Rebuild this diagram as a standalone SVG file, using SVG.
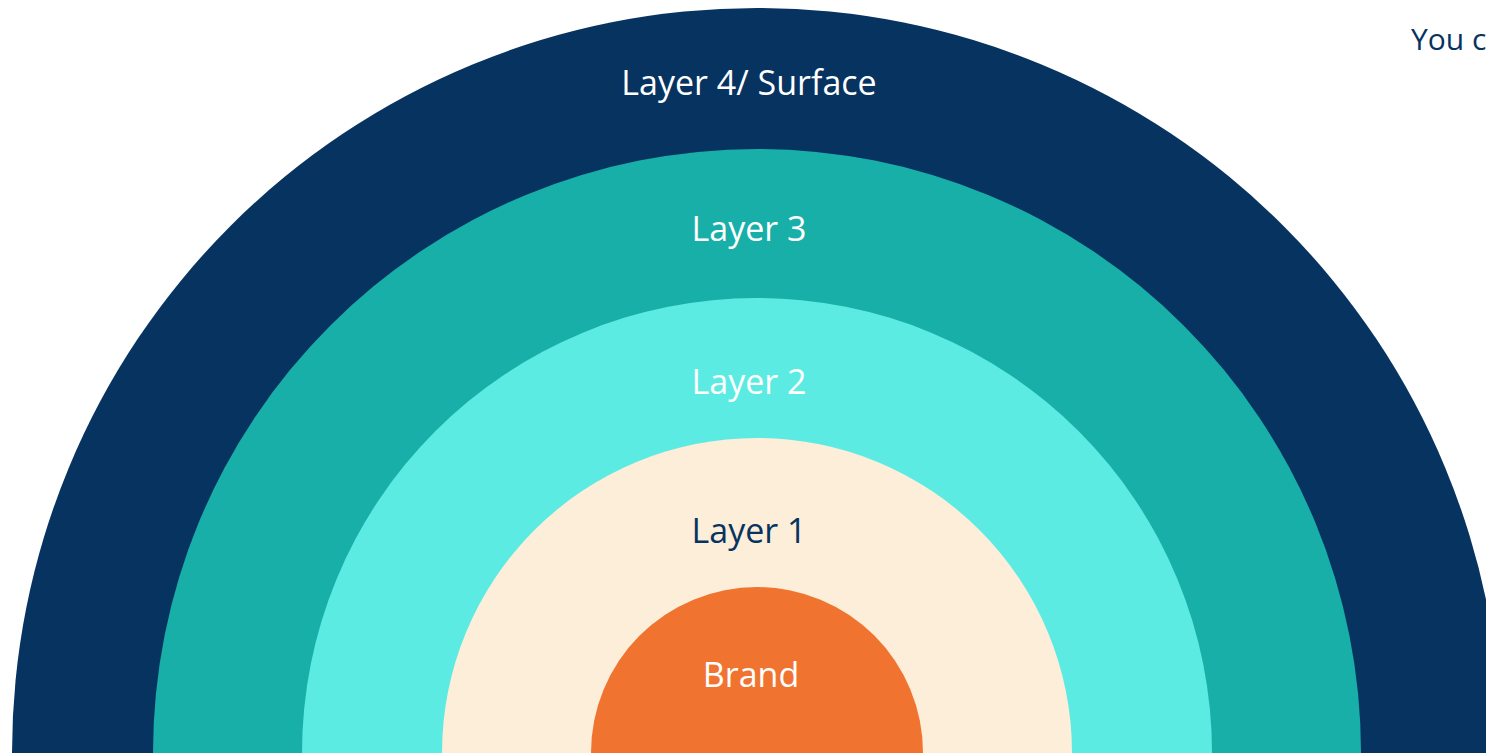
<svg xmlns="http://www.w3.org/2000/svg" width="1486" height="753" viewBox="0 0 1486 753">
<style>
.lbl{font-family:"Open Sans","Liberation Sans",sans-serif;font-size:34px;text-anchor:middle}
.w{fill:#FFFFFF}
.n{fill:#073361}
</style>
<rect width="1486" height="753" fill="#FFFFFF"/>
<g id="layer4"><circle cx="757" cy="753" r="745" fill="#073361"/><text class="lbl w" x="749" y="95">Layer 4/ Surface</text></g>
<g id="layer3"><circle cx="757" cy="753" r="604" fill="#18AFA9"/><text class="lbl w" x="749" y="241">Layer 3</text></g>
<g id="layer2"><circle cx="757" cy="753" r="455" fill="#5CEBE3"/><text class="lbl w" x="749" y="394">Layer 2</text></g>
<g id="layer1"><circle cx="757" cy="753" r="315" fill="#FCEED8"/><text class="lbl n" x="749" y="543">Layer 1</text></g>
<g id="brand"><circle cx="757" cy="753" r="166" fill="#F07430"/><text class="lbl w" x="751" y="687">Brand</text></g>
<g id="note"><text x="1411" y="50" style="font-family:'Open Sans','Liberation Sans',sans-serif;font-size:30px;fill:#073361">You c</text></g>
<g id="connectors"/>
</svg>
